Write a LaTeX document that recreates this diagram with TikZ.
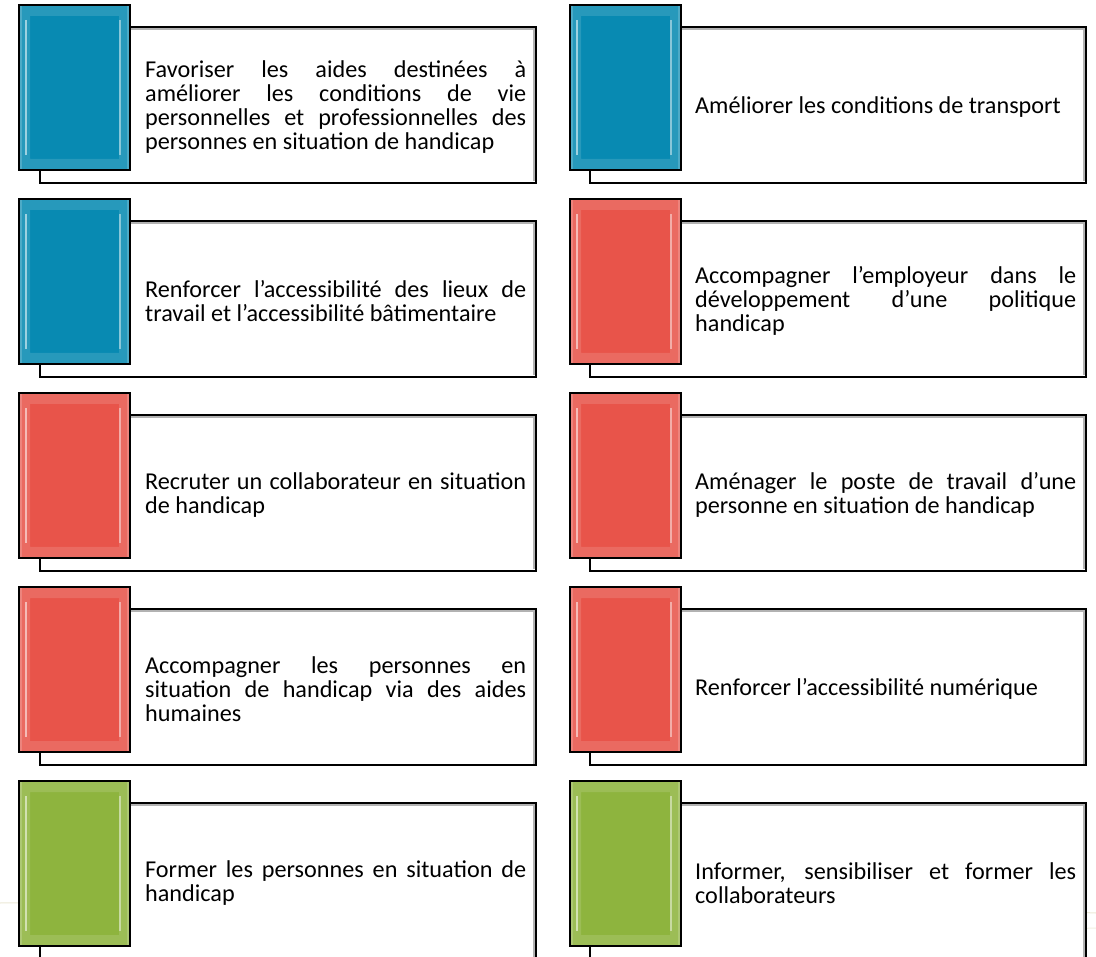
\documentclass[tikz,border=0pt]{standalone}
\usepackage{fontspec}
\setmainfont{Carlito}
\usetikzlibrary{positioning,calc}
\hyphenpenalty=10000
\exhyphenpenalty=10000
\emergencystretch=3em
\definecolor{bleuH}{RGB}{8,138,178}
\definecolor{rougeH}{RGB}{232,84,74}
\definecolor{vertH}{RGB}{142,180,62}
\definecolor{fondH}{RGB}{236,233,214}
\tikzstyle{cadre} = [rectangle, draw=black, line width=1.8pt, fill=white, minimum width=496pt, minimum height=156pt, inner sep=0pt,
  path picture={\draw[gray!60, line width=2pt] ([shift={(1.5pt,-1.8pt)}]path picture bounding box.north west) -- ([shift={(-1.8pt,-1.8pt)}]path picture bounding box.north east) -- ([shift={(-1.8pt,1.5pt)}]path picture bounding box.south east);}]
\tikzstyle{texte} = [anchor=west, text width=381pt, align=justify, inner sep=0pt, font=\fontsize{24.2}{23.8}\selectfont]
\tikzset{barre/.style={rectangle, draw=black, line width=1.3pt, fill=#1, minimum width=111pt, minimum height=165pt, inner sep=0pt,
  path picture={
    \fill[white, opacity=0.13, even odd rule] (path picture bounding box.south west) rectangle (path picture bounding box.north east)
      ([shift={(11pt,-11pt)}]path picture bounding box.north west) rectangle ([shift={(-11pt,11pt)}]path picture bounding box.south east);
    \fill[white, opacity=0.18] (path picture bounding box.south west) rectangle ([shift={(3pt,0pt)}]path picture bounding box.north west);
    \fill[white, opacity=0.18] (path picture bounding box.south east) rectangle ([shift={(-3pt,0pt)}]path picture bounding box.north east);
    \draw[white, opacity=0.55, line width=2pt] ([shift={(7pt,-15pt)}]path picture bounding box.north west) -- ([shift={(7pt,15pt)}]path picture bounding box.south west);
    \draw[white, opacity=0.45, line width=2pt] ([shift={(-10pt,-15pt)}]path picture bounding box.north east) -- ([shift={(-10pt,15pt)}]path picture bounding box.south east);
  }}}

\begin{document}
\begin{tikzpicture}[x=1pt, y=-1pt]
    \clip (0,0) rectangle (1096,957);
    \fill[white] (0,0) rectangle (1096,957);
    % faint background lines
    \draw[fondH, line width=1pt] (0,903) .. controls (120,902) and (220,901) .. (300,901);
    \draw[fondH, line width=1pt] (690,903) .. controls (850,904) and (1000,909) .. (1096,913);
    \draw[fondH!70, line width=1pt] (840,940) .. controls (950,935) and (1030,930) .. (1096,928);

    % row 1
    \node[cadre] (c1) at (288,105) {};
    \node[barre=bleuH] (b1) at (74.5,87.5) {};
    \node[texte] (t1) at (145,107) {Favoriser les aides destinées à améliorer les conditions de vie personnelles et professionnelles des personnes en situation de handicap};
    \node[cadre] (c2) at (838,105) {};
    \node[barre=bleuH] (b2) at (625.5,87.5) {};
    \node[texte] (t2) at (695,107) {Améliorer les conditions de transport};

    % row 2
    \node[cadre] (c3) at (288,299) {};
    \node[barre=bleuH] (b3) at (74.5,281.5) {};
    \node[texte] (t3) at (145,301) {Renforcer l’accessibilité des lieux de travail et l’accessibilité bâtimentaire};
    \node[cadre] (c4) at (838,299) {};
    \node[barre=rougeH] (b4) at (625.5,281.5) {};
    \node[texte] (t4) at (695,301) {Accompagner l’employeur dans le développement d’une politique handicap};

    % row 3
    \node[cadre] (c5) at (288,493) {};
    \node[barre=rougeH] (b5) at (74.5,475.5) {};
    \node[texte] (t5) at (145,495) {Recruter un collaborateur en situation de handicap};
    \node[cadre] (c6) at (838,493) {};
    \node[barre=rougeH] (b6) at (625.5,475.5) {};
    \node[texte] (t6) at (695,495) {Aménager le poste de travail d’une personne en situation de handicap};

    % row 4
    \node[cadre] (c7) at (288,687) {};
    \node[barre=rougeH] (b7) at (74.5,669.5) {};
    \node[texte] (t7) at (145,689) {Accompagner les personnes en situation de handicap via des aides humaines};
    \node[cadre] (c8) at (838,687) {};
    \node[barre=rougeH] (b8) at (625.5,669.5) {};
    \node[texte] (t8) at (695,689) {Renforcer l’accessibilité numérique};

    % row 5
    \node[cadre] (c9) at (288,881) {};
    \node[barre=vertH] (b9) at (74.5,863.5) {};
    \node[texte] (t9) at (145,883) {Former les personnes en situation de handicap};
    \node[cadre] (c10) at (838,881) {};
    \node[barre=vertH] (b10) at (625.5,863.5) {};
    \node[texte] (t10) at (695,883) {Informer, sensibiliser et former les collaborateurs};
\end{tikzpicture}
\end{document}
